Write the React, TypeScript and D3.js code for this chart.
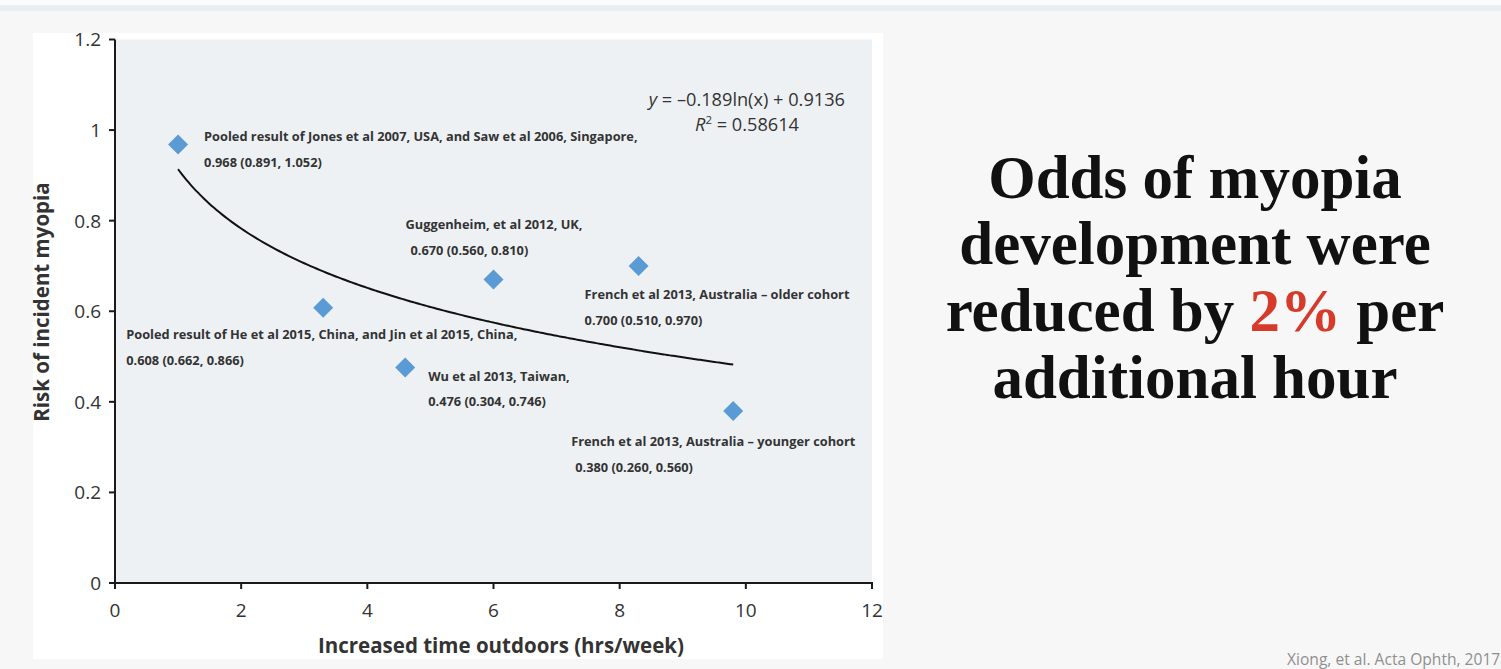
import React from "react";
import * as d3 from "d3";

const hours = [1.0, 3.3, 4.6, 6.0, 8.3, 9.8];
const risk = [0.968, 0.608, 0.476, 0.67, 0.7, 0.38];
const studyLabels = [
  "Pooled result of Jones et al 2007, USA, and Saw et al 2006, Singapore,",
  "Pooled result of He et al 2015, China, and Jin et al 2015, China,",
  "Wu et al 2013, Taiwan,",
  "Guggenheim, et al 2012, UK,",
  "French et al 2013, Australia \u2013 older cohort",
  "French  et al 2013, Australia \u2013 younger cohort",
];
const ciLabels = [
  "0.968 (0.891, 1.052)",
  "0.608 (0.662, 0.866)",
  "0.476 (0.304, 0.746)",
  "0.670 (0.560, 0.810)",
  "0.700 (0.510, 0.970)",
  "0.380 (0.260, 0.560)",
];
// label anchor offsets relative to each point (px)
const labelDx = [26, -197, 23, -88, -54, -162];
const labelDy = [-8, 27, 9, -55, 29, 31];
const ciDx = [26, -197, 23, -83, -54, -158];

const xTicks = [0, 2, 4, 6, 8, 10, 12];
const yTicks = [0, 0.2, 0.4, 0.6, 0.8, 1, 1.2];
const trendA = -0.189;
const trendB = 0.9136;
const trendR2 = "0.58614";
const headlineLines = ["Odds of myopia", "development were", "reduced by ", "additional hour"];

export default function App() {
  const W = 1501;
  const H = 669;
  const x = d3.scaleLinear().domain([0, 12]).range([115, 872]);
  const y = d3.scaleLinear().domain([0, 1.2]).range([583, 39.5]);

  const trendX = d3.range(1, 9.8001, 0.05);
  const line = d3
    .line<number>()
    .x((d) => x(d))
    .y((d) => y(trendA * Math.log(d) + trendB))
    .curve(d3.curveMonotoneX);
  const diamond = d3.symbol().type(d3.symbolSquare).size(200)();

  const sans = "'Open Sans', Lato, sans-serif";
  const serif = "'Liberation Serif', 'DejaVu Serif', serif";
  const textCol = "#333";

  return (
    <svg
      width={W}
      height={H}
      style={{ position: "fixed", left: 0, top: 0, display: "block" }}
    >
      <rect x={0} y={0} width={W} height={H} fill="#f7f7f7" />
      <rect x={0} y={0} width={W} height={5} fill="#fbfcfd" />
      <rect x={0} y={5} width={W} height={6} fill="#e9eef3" />
      {/* chart picture */}
      <rect x={33} y={33} width={850} height={626} fill="#ffffff" />
      <rect x={x(0)} y={y(1.2)} width={x(12) - x(0)} height={y(0) - y(1.2)} fill="#edf1f4" />

      {/* axes */}
      <line x1={x(0)} x2={x(0)} y1={y(1.2)} y2={y(0) + 1} stroke="#1a1a1a" strokeWidth={2} />
      <line x1={x(0) - 1} x2={x(12) + 1} y1={y(0)} y2={y(0)} stroke="#1a1a1a" strokeWidth={2} />
      {yTicks.map((t) => (
        <g key={"y" + t}>
          <line x1={x(0) - 6} x2={x(0)} y1={y(t)} y2={y(t)} stroke="#1a1a1a" strokeWidth={2} />
          <text
            x={101}
            y={y(t)}
            dy="0.36em"
            textAnchor="end"
            fontFamily={sans}
            fontSize={19}
            fill={textCol}
          >
            {d3.format("~g")(t)}
          </text>
        </g>
      ))}
      {xTicks.map((t) => (
        <g key={"x" + t}>
          <line x1={x(t)} x2={x(t)} y1={y(0)} y2={y(0) + 6} stroke="#1a1a1a" strokeWidth={2} />
          <text
            x={x(t)}
            y={610}
            dy="0.36em"
            textAnchor="middle"
            fontFamily={sans}
            fontSize={19}
            fill={textCol}
          >
            {t}
          </text>
        </g>
      ))}
      <text
        x={501}
        y={646}
        dy="0.35em"
        textAnchor="middle"
        fontFamily={sans}
        fontWeight="bold"
        fontSize={20.5}
        fill={textCol}
      >
        Increased time outdoors (hrs/week)
      </text>
      <text
        transform={`translate(42,${302}) rotate(-90)`}
        dy="0.35em"
        textAnchor="middle"
        fontFamily={sans}
        fontWeight="bold"
        fontSize={20.5}
        fill={textCol}
      >
        Risk of incident myopia
      </text>

      {/* trend line */}
      <path d={line(trendX) || ""} fill="none" stroke="#111" strokeWidth={2} />

      {/* points */}
      {hours.map((h, i) => (
        <path
          key={"p" + i}
          d={diamond || ""}
          transform={`translate(${x(h)},${y(risk[i])}) rotate(45)`}
          fill="#5b9bd5"
        />
      ))}

      {/* annotations */}
      {hours.map((h, i) => (
        <g key={"a" + i} fontFamily={sans} fontWeight="bold" fontSize={12.8} fill={textCol}>
          <text x={x(h) + labelDx[i]} y={y(risk[i]) + labelDy[i]} dy="0.35em">
            {studyLabels[i]}
          </text>
          <text x={x(h) + ciDx[i]} y={y(risk[i]) + labelDy[i] + 25.5} dy="0.35em">
            {ciLabels[i]}
          </text>
        </g>
      ))}

      {/* equation */}
      <text x={845} y={100} dy="0.35em" textAnchor="end" fontFamily={sans} fontSize={18.2} fill={textCol}>
        <tspan fontStyle="italic">y</tspan>
        {` = \u2013${Math.abs(trendA)}ln(x) + ${trendB}`}
      </text>
      <text x={799} y={125} dy="0.35em" textAnchor="end" fontFamily={sans} fontSize={18.2} fill={textCol}>
        <tspan fontStyle="italic">R</tspan>
        <tspan fontSize={11.5} dy="-7">2</tspan>
        <tspan dy="7">{` = ${trendR2}`}</tspan>
      </text>

      {/* headline */}
      <g fontFamily={serif} fontWeight="bold" fontSize={61} fill="#111" textAnchor="middle">
        <text x={1195} y={177} dy="0.35em">{headlineLines[0]}</text>
        <text x={1195} y={243} dy="0.35em">{headlineLines[1]}</text>
        <text x={1195} y={310} dy="0.35em">
          {headlineLines[2]}
          <tspan fill="#d63a2a">2%</tspan>
          {" per"}
        </text>
        <text x={1195} y={377} dy="0.35em">{headlineLines[3]}</text>
      </g>

      <text x={1287} y={660} dy="0.35em" fontFamily={sans} fontSize={15.6} fill="#8f8f8f">
        Xiong, et al. Acta Ophth, 2017
      </text>
    </svg>
  );
}
